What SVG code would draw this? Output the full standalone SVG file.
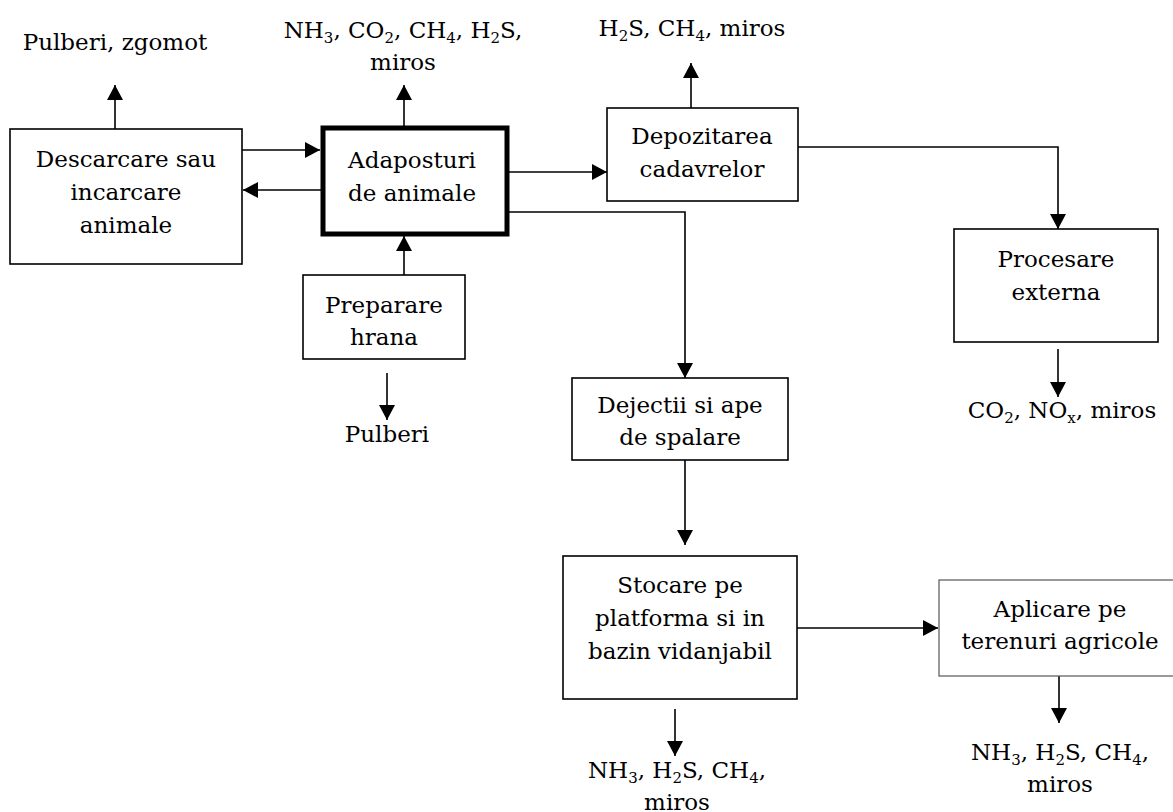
<svg xmlns="http://www.w3.org/2000/svg" width="1173" height="812" viewBox="0 0 1173 812">
<defs>
<marker id="ah" viewBox="0 0 15 16" refX="15" refY="8" markerWidth="15" markerHeight="16" markerUnits="userSpaceOnUse" orient="auto">
<path d="M0,0 L15,8 L0,16 Z" fill="#000"/>
</marker>
<style>
text{font-family:"DejaVu Serif","Liberation Serif",serif;font-size:23px;fill:#000;text-anchor:middle}
.box{fill:#fff;stroke:#000;stroke-width:1.6}
.thick{fill:#fff;stroke:#000;stroke-width:5}
.thin{fill:#fff;stroke:#555;stroke-width:1.2}
.c{fill:none;stroke:#000;stroke-width:1.6;marker-end:url(#ah)}
.s{font-size:15px}
</style>
</defs>
<rect width="1173" height="812" fill="#fff"/>
<g id="connectors">
<line class="c" x1="115" y1="129" x2="115" y2="85"/>
<line class="c" x1="242" y1="150" x2="320" y2="150"/>
<line class="c" x1="321" y1="190" x2="243" y2="190"/>
<line class="c" x1="404" y1="126" x2="404" y2="85"/>
<line class="c" x1="509" y1="172" x2="607" y2="172"/>
<polyline class="c" points="509,212 685,212 685,378"/>
<line class="c" x1="691" y1="108" x2="691" y2="63"/>
<polyline class="c" points="798,147 1058,147 1058,229"/>
<line class="c" x1="404" y1="275" x2="404" y2="236"/>
<line class="c" x1="387" y1="373" x2="387" y2="420"/>
<line class="c" x1="1058" y1="349" x2="1058" y2="397"/>
<line class="c" x1="685" y1="460" x2="685" y2="545"/>
<line class="c" x1="797" y1="628" x2="938" y2="628"/>
<line class="c" x1="1059" y1="676" x2="1059" y2="723"/>
<line class="c" x1="675" y1="709" x2="675" y2="756"/>
</g>
<g id="n-descarcare">
<rect class="box" x="10" y="129" width="232" height="135"/>
<text x="126" y="167">Descarcare sau</text>
<text x="126" y="200">incarcare</text>
<text x="126" y="233">animale</text>
</g>
<g id="e-descarcare"><text x="115" y="50">Pulberi, zgomot</text></g>
<g id="n-adaposturi">
<rect class="thick" x="323" y="128" width="184" height="106"/>
<text x="412" y="168">Adaposturi</text>
<text x="412" y="201">de animale</text>
</g>
<g id="e-adaposturi">
<text x="403" y="38">NH<tspan class="s" dy="5">3</tspan><tspan dy="-5">, CO</tspan><tspan class="s" dy="5">2</tspan><tspan dy="-5">, CH</tspan><tspan class="s" dy="5">4</tspan><tspan dy="-5">, H</tspan><tspan class="s" dy="5">2</tspan><tspan dy="-5">S,</tspan></text>
<text x="403" y="70">miros</text>
</g>
<g id="n-depozitarea">
<rect class="box" x="607" y="108" width="191" height="93"/>
<text x="702" y="144">Depozitarea</text>
<text x="702" y="177">cadavrelor</text>
</g>
<g id="e-depozitarea">
<text x="692" y="36">H<tspan class="s" dy="5">2</tspan><tspan dy="-5">S, CH</tspan><tspan class="s" dy="5">4</tspan><tspan dy="-5">, miros</tspan></text>
</g>
<g id="n-procesare">
<rect class="box" x="954" y="229" width="204" height="113"/>
<text x="1056" y="267">Procesare</text>
<text x="1056" y="300">externa</text>
</g>
<g id="e-procesare">
<text x="1062" y="418">CO<tspan class="s" dy="5">2</tspan><tspan dy="-5">, NO</tspan><tspan class="s" dy="5">x</tspan><tspan dy="-5">, miros</tspan></text>
</g>
<g id="n-preparare">
<rect class="box" x="303" y="275" width="162" height="84"/>
<text x="384" y="313">Preparare</text>
<text x="384" y="345">hrana</text>
</g>
<g id="e-preparare"><text x="387" y="442">Pulberi</text></g>
<g id="n-dejectii">
<rect class="box" x="572" y="378" width="216" height="82"/>
<text x="680" y="413">Dejectii si ape</text>
<text x="680" y="445">de spalare</text>
</g>
<g id="n-stocare">
<rect class="box" x="563" y="556" width="234" height="143"/>
<text x="680" y="593">Stocare pe</text>
<text x="680" y="626">platforma si in</text>
<text x="680" y="659">bazin vidanjabil</text>
</g>
<g id="e-stocare">
<text x="677" y="778">NH<tspan class="s" dy="5">3</tspan><tspan dy="-5">, H</tspan><tspan class="s" dy="5">2</tspan><tspan dy="-5">S, CH</tspan><tspan class="s" dy="5">4</tspan><tspan dy="-5">,</tspan></text>
<text x="677" y="810">miros</text>
</g>
<g id="n-aplicare">
<rect class="thin" x="939" y="580" width="240" height="96"/>
<text x="1060" y="617">Aplicare pe</text>
<text x="1060" y="649">terenuri agricole</text>
</g>
<g id="e-aplicare">
<text x="1060" y="760">NH<tspan class="s" dy="5">3</tspan><tspan dy="-5">, H</tspan><tspan class="s" dy="5">2</tspan><tspan dy="-5">S, CH</tspan><tspan class="s" dy="5">4</tspan><tspan dy="-5">,</tspan></text>
<text x="1060" y="792">miros</text>
</g>
</svg>
